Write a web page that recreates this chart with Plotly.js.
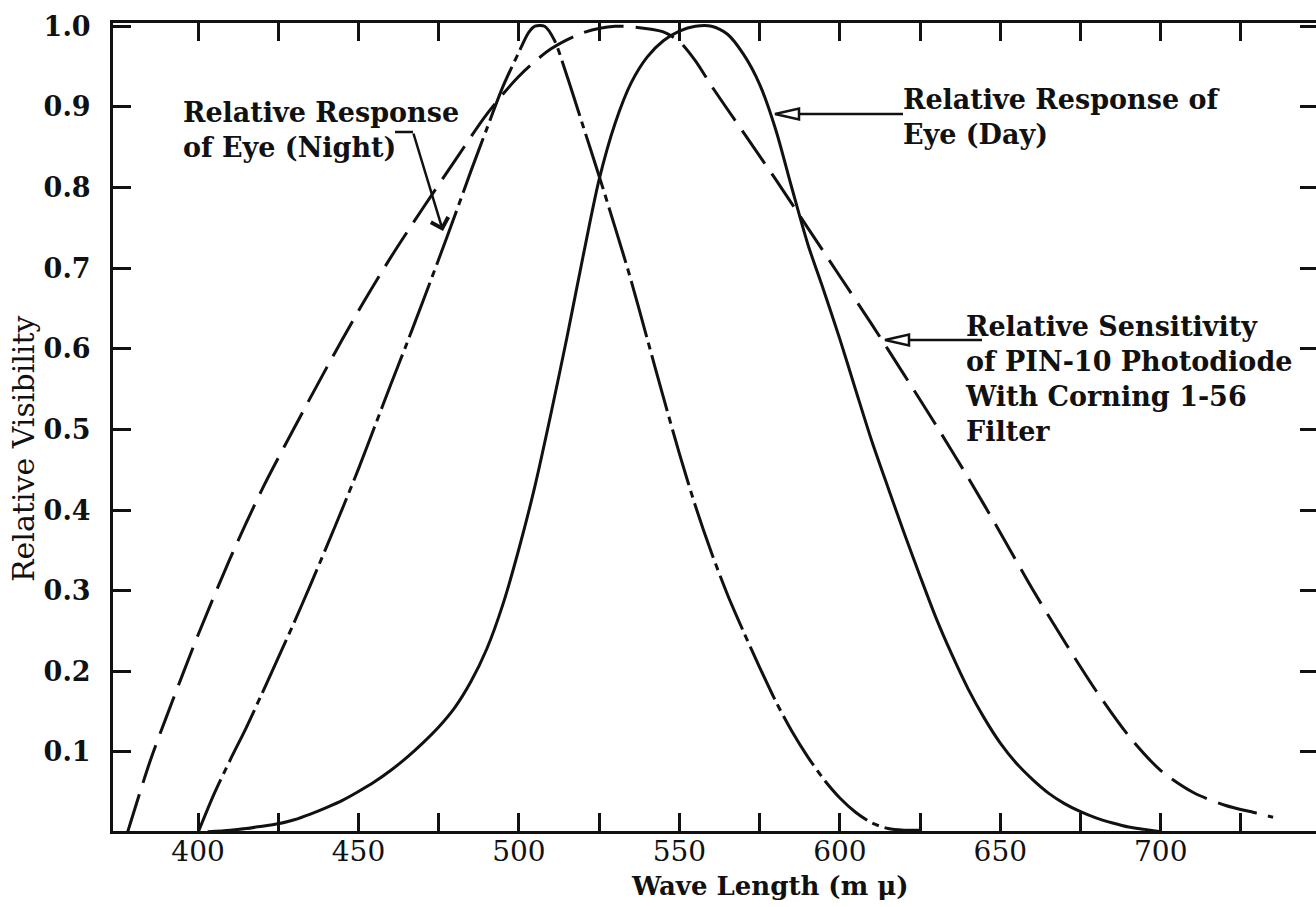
<!DOCTYPE html>
<html>
<head>
<meta charset="utf-8">
<script src="https://cdn.plot.ly/plotly-3.0.1.min.js"></script>
<style>
html,body{margin:0;padding:0;background:#fff;overflow:hidden;}
#chart{width:1320px;height:907px;}
</style>
</head>
<body>
<div id="chart"></div>
<script>
// ---- data ----
const nightWavelength = [400, 405, 410, 415, 420, 425, 430, 435, 440, 445, 450, 455, 460, 465, 470, 475, 480, 485, 490, 495, 500, 503, 505, 508, 511, 515, 520, 525, 530, 535, 540, 545, 550, 555, 560, 565, 570, 575, 580, 585, 590, 595, 600, 605, 610, 615, 620, 625];
const nightRelative  = [0, 0.048, 0.09, 0.13, 0.173, 0.217, 0.261, 0.307, 0.354, 0.402, 0.451, 0.503, 0.555, 0.606, 0.658, 0.711, 0.765, 0.82, 0.873, 0.925, 0.968, 0.992, 1.0, 1.0, 0.983, 0.938, 0.876, 0.814, 0.75, 0.684, 0.612, 0.54, 0.47, 0.405, 0.347, 0.295, 0.249, 0.205, 0.163, 0.126, 0.094, 0.066, 0.043, 0.025, 0.012, 0.005, 0.003, 0.003];

const dayWavelength = [403, 410, 415, 420, 425, 430, 435, 440, 445, 450, 455, 460, 465, 470, 475, 480, 485, 490, 495, 500, 505, 510, 515, 520, 525, 530, 535, 540, 545, 550, 555, 560, 565, 570, 575, 580, 585, 590, 595, 600, 605, 610, 615, 620, 625, 630, 635, 640, 645, 650, 655, 660, 665, 670, 675, 680, 685, 690, 695, 700];
const dayRelative   = [0.001, 0.003, 0.005, 0.008, 0.011, 0.016, 0.023, 0.031, 0.04, 0.051, 0.063, 0.077, 0.093, 0.111, 0.131, 0.155, 0.187, 0.228, 0.283, 0.352, 0.43, 0.52, 0.615, 0.715, 0.81, 0.88, 0.93, 0.962, 0.982, 0.994, 1.0, 1.0, 0.99, 0.965, 0.928, 0.872, 0.80, 0.73, 0.672, 0.612, 0.548, 0.485, 0.428, 0.372, 0.318, 0.266, 0.22, 0.178, 0.142, 0.111, 0.086, 0.066, 0.049, 0.036, 0.026, 0.018, 0.012, 0.007, 0.004, 0.001];

const pinWavelength = [378, 385, 390, 400, 410, 420, 430, 440, 450, 460, 470, 480, 490, 500, 510, 520, 530, 540, 545, 550, 555, 560, 570, 580, 590, 600, 610, 620, 630, 640, 650, 660, 670, 680, 690, 700, 710, 720, 730, 735];
const pinRelative   = [0, 0.088, 0.142, 0.245, 0.34, 0.426, 0.502, 0.576, 0.647, 0.713, 0.774, 0.833, 0.891, 0.938, 0.972, 0.992, 1.0, 0.997, 0.993, 0.981, 0.957, 0.926, 0.868, 0.81, 0.75, 0.69, 0.63, 0.568, 0.505, 0.44, 0.372, 0.302, 0.237, 0.175, 0.12, 0.077, 0.05, 0.034, 0.024, 0.019];

const xTickValues = [400, 425, 450, 475, 500, 525, 550, 575, 600, 625, 650, 675, 700, 725];
const xTickLabels = ['400', '', '450', '', '500', '', '550', '', '600', '', '650', '', '700', ''];
const yTickValues = [0.1, 0.2, 0.3, 0.4, 0.5, 0.6, 0.7, 0.8, 0.9, 1.0];
const yTickLabels = ['0.1', '0.2', '0.3', '0.4', '0.5', '0.6', '0.7', '0.8', '0.9', '1.0'];

const labelNight = 'Relative Response<br>of Eye (Night)';
const labelDay = 'Relative Response of<br>Eye (Day)';
const labelPin = 'Relative Sensitivity<br>of PIN-10 Photodiode<br>With Corning 1-56<br>Filter';
const xTitle = 'Wave Length (m μ)';
const yTitle = 'Relative Visibility';

// ---- layout geometry ----
const W = 1320, H = 907;
const L = 113, R = 1318, T = 23, B = 831;
const xr = [373.5, 749.0];
const yr = [0.002, 1.004];
function X(px){ return xr[0] + (px - L) / (R - L) * (xr[1] - xr[0]); }
function Y(py){ return yr[1] - (py - T) / (B - T) * (yr[1] - yr[0]); }
function PX(px){ return (px - L) / (R - L); }
function PY(py){ return (B - py) / (B - T); }

const ink = '#111';
const serif = 'DejaVu Serif';

const traces = [
  {x: pinWavelength, y: pinRelative, mode: 'lines', line: {color: ink, width: 3, dash: '40px,12px', shape: 'spline', smoothing: 0.8}, hoverinfo: 'skip'},
  {x: nightWavelength, y: nightRelative, mode: 'lines', line: {color: ink, width: 3, dash: '58px,6px,7px,6px', shape: 'spline', smoothing: 0.8}, hoverinfo: 'skip'},
  {x: dayWavelength, y: dayRelative, mode: 'lines', line: {color: ink, width: 3, shape: 'spline', smoothing: 0.8}, hoverinfo: 'skip'}
];

function tri(tipX, tipY, baseX, half){
  return 'M' + X(tipX) + ',' + Y(tipY) + ' L' + X(baseX) + ',' + Y(tipY - half) + ' L' + X(baseX) + ',' + Y(tipY + half) + ' Z';
}

const shapes = [
  {type: 'line', xref: 'x', yref: 'y', x0: X(395), y0: Y(132), x1: X(413), y1: Y(132), line: {color: ink, width: 2.5}},
  {type: 'line', xref: 'x', yref: 'y', x0: X(798), y0: Y(114), x1: X(903), y1: Y(114), line: {color: ink, width: 2.5}},
  {type: 'path', xref: 'x', yref: 'y', path: tri(775, 114, 799, 5.5), fillcolor: '#fff', line: {color: ink, width: 2.5}},
  {type: 'line', xref: 'x', yref: 'y', x0: X(908), y0: Y(340), x1: X(982), y1: Y(340), line: {color: ink, width: 2.5}},
  {type: 'path', xref: 'x', yref: 'y', path: tri(885, 340, 909, 5.5), fillcolor: '#fff', line: {color: ink, width: 2.5}}
];

const annFont = {family: serif, size: 27, color: ink, weight: 'bold'};
const annotations = [
  {xref: 'paper', yref: 'paper', x: PX(181), y: PY(130), text: labelNight, showarrow: false, xanchor: 'left', yanchor: 'middle', align: 'left', font: annFont},
  {xref: 'paper', yref: 'paper', x: PX(901), y: PY(117), text: labelDay, showarrow: false, xanchor: 'left', yanchor: 'middle', align: 'left', font: annFont},
  {xref: 'paper', yref: 'paper', x: PX(963), y: PY(379), text: labelPin, showarrow: false, xanchor: 'left', yanchor: 'middle', align: 'left', font: annFont},
  {xref: 'x', yref: 'y', x: X(443), y: Y(231), text: '', showarrow: true, ax: -30, ay: -99, arrowhead: 4, arrowsize: 1.4, arrowwidth: 2.5, arrowcolor: ink},
  {xref: 'paper', yref: 'paper', x: PX(770), y: PY(886), text: xTitle, showarrow: false, xanchor: 'center', yanchor: 'middle', font: {family: serif, size: 26, color: ink, weight: 'bold'}},
  {xref: 'paper', yref: 'paper', x: PX(23), y: PY(449), text: yTitle, showarrow: false, textangle: -90, xanchor: 'center', yanchor: 'middle', font: {family: serif, size: 30, color: ink}}
];

const axisCommon = {
  showline: true, linecolor: ink, linewidth: 3, mirror: 'allticks',
  ticks: 'inside', ticklen: 18, tickwidth: 3, tickcolor: ink,
  showgrid: false, zeroline: false, fixedrange: true, tickmode: 'array'
};

const layout = {
  width: W, height: H,
  margin: {l: L, r: W - R, t: T, b: H - B, pad: 0},
  paper_bgcolor: '#fff', plot_bgcolor: '#fff',
  showlegend: false,
  xaxis: Object.assign({}, axisCommon, {
    range: xr, tickvals: xTickValues, ticktext: xTickLabels,
    tickfont: {family: serif, size: 28, color: ink}, ticklabelstandoff: -7
  }),
  yaxis: Object.assign({}, axisCommon, {
    range: yr, tickvals: yTickValues, ticktext: yTickLabels,
    tickfont: {family: serif, size: 27, color: ink, weight: 'bold'}, ticklabelstandoff: 14
  }),
  shapes: shapes,
  annotations: annotations
};

Plotly.newPlot('chart', traces, layout, {displayModeBar: false, staticPlot: true});
</script>
</body>
</html>
